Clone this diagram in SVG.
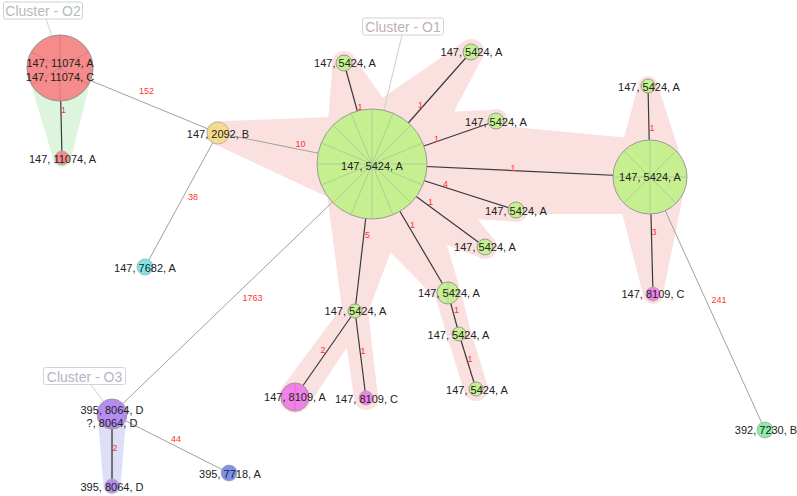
<svg xmlns="http://www.w3.org/2000/svg" width="797" height="496" viewBox="0 0 797 496">
<style>
.lbl{font-family:"Liberation Sans",Arial,sans-serif;font-size:11px;fill:#222;text-anchor:middle}
.el{font-family:"Liberation Sans",Arial,sans-serif;font-size:9px;fill:#f33;text-anchor:middle}
.cl{font-family:"Liberation Sans",Arial,sans-serif;font-size:14px;text-anchor:middle}
.far{stroke:#a0a0a0;stroke-width:1;fill:none}
.near{stroke:#3a3a3a;stroke-width:1.2;fill:none}
.sp{stroke:#a9c996;stroke-width:0.9}
.g{fill:#c6f08f;stroke:#9a9a9a;stroke-width:1}
.box{fill:#fff;stroke:#d2d2d2;stroke-width:1}
.lead{stroke:#cfcfcf;stroke-width:1}
</style>
<rect width="797" height="496" fill="#fff"/>
<g id="hulls">
<g fill="#fbe0e0">
<polygon points="381.9,115 220.4,121.2 215.6,144.8 362.1,213"/>
<circle cx="218" cy="133" r="12"/>
<polygon points="420.2,150.6 355.6,59.8 332.4,66.2 323.8,177.4"/>
<circle cx="344" cy="63" r="12"/>
<polygon points="409.5,197.1 480.7,60.6 461.3,43.4 334.5,130.9"/>
<circle cx="471" cy="52" r="13"/>
<polygon points="388.4,211.3 499.9,132.3 492.1,109.7 355.6,116.7"/>
<circle cx="496" cy="121" r="12"/>
<polygon points="369.7,213.9 648.3,214 651.7,140 374.3,114.1"/>
<polygon points="356.8,211.6 512.3,221.4 519.7,198.6 387.2,116.4"/>
<circle cx="516" cy="210" r="12"/>
<polygon points="342.4,204.3 477.9,256.7 492.1,237.3 401.6,123.7"/>
<circle cx="485" cy="247" r="12"/>
<polygon points="328.9,189.4 436.8,299.6 459.2,286.4 415.1,138.6"/>
<polygon points="322.3,158.3 342.1,309.5 367.9,312.5 421.7,169.7"/>
<polygon points="344.3,303.6 281.9,387.8 308.1,406.2 365.7,318.4"/>
<circle cx="295" cy="397" r="16"/>
<polygon points="342.1,312.6 354.1,399.5 377.9,396.5 367.9,309.4"/>
<circle cx="366" cy="398" r="12"/>
<polygon points="435.4,296.4 447.4,337.1 470.6,330.9 460.6,289.6"/>
<polygon points="447.5,337.5 464.5,392.5 487.5,385.5 470.5,330.5"/>
<circle cx="476" cy="389" r="12"/>
<polygon points="687,176.2 658,85.8 638,86.2 613,177.8"/>
<circle cx="648" cy="86" r="10"/>
<polygon points="613,177.9 643,294.3 663,293.7 687,176.1"/>
<circle cx="653" cy="294" r="10"/>
</g>
<g fill="#ddf5dd">
<polygon points="27.2,72 53,158 71,158 92.8,72"/>
<circle cx="62" cy="158" r="9.5"/>
</g>
<g fill="#dedff7">
<polygon points="97.5,414 103.5,486 120.5,486 126.5,414"/>
<circle cx="112" cy="486" r="8.5"/>
</g>
</g>
<g id="cluster-labels">
<g id="cluster-O2"><line class="lead" x1="46" y1="19" x2="52" y2="36"/><rect class="box" x="3.5" y="2" width="79" height="17" rx="2"/><text class="cl" x="43" y="16" fill="#b4bcb4">Cluster - O2</text></g>
<g id="cluster-O1"><line class="lead" x1="402" y1="35" x2="384" y2="110"/><rect class="box" x="362.5" y="18" width="81" height="17" rx="2"/><text class="cl" x="403" y="32" fill="#bfb0b0">Cluster - O1</text></g>
<g id="cluster-O3"><line class="lead" x1="91" y1="385" x2="104" y2="402"/><rect class="box" x="43.5" y="367.5" width="82" height="17" rx="2"/><text class="cl" x="84.5" y="382" fill="#b4b4c8">Cluster - O3</text></g>
</g>
<g id="connectors">
<line class="far" x1="60" y1="68" x2="218" y2="133"/>
<line class="near" x1="60" y1="68" x2="62" y2="158"/>
<line class="far" x1="218" y1="133" x2="145" y2="267"/>
<line class="far" x1="218" y1="133" x2="372" y2="164"/>
<line class="far" x1="372" y1="164" x2="112" y2="414"/>
<line class="near" x1="372" y1="164" x2="344" y2="63"/>
<line class="near" x1="372" y1="164" x2="471" y2="52"/>
<line class="near" x1="372" y1="164" x2="496" y2="121"/>
<line class="near" x1="372" y1="164" x2="650" y2="177"/>
<line class="near" x1="372" y1="164" x2="516" y2="210"/>
<line class="near" x1="372" y1="164" x2="485" y2="247"/>
<line class="near" x1="372" y1="164" x2="448" y2="293"/>
<line class="near" x1="372" y1="164" x2="355" y2="311"/>
<line class="near" x1="355" y1="311" x2="295" y2="397"/>
<line class="near" x1="355" y1="311" x2="366" y2="398"/>
<line class="near" x1="448" y1="293" x2="459" y2="334"/>
<line class="near" x1="459" y1="334" x2="476" y2="389"/>
<line class="near" x1="650" y1="177" x2="648" y2="86"/>
<line class="near" x1="650" y1="177" x2="653" y2="294"/>
<line class="far" x1="650" y1="177" x2="765" y2="430"/>
<line class="near" x1="112" y1="414" x2="112" y2="486" style="stroke-width:1.6;stroke:#555"/>
<line class="far" x1="112" y1="414" x2="229" y2="473"/>
<text class="el" x="146.5" y="94">152</text>
<text class="el" x="63.5" y="113">1</text>
<text class="el" x="193" y="200">38</text>
<text class="el" x="300.5" y="147">10</text>
<text class="el" x="252.5" y="301">1763</text>
<text class="el" x="360" y="110">1</text>
<text class="el" x="420.5" y="108">1</text>
<text class="el" x="436.5" y="142">1</text>
<text class="el" x="513" y="171">1</text>
<text class="el" x="445.5" y="187">4</text>
<text class="el" x="430.5" y="205">1</text>
<text class="el" x="412.5" y="228">1</text>
<text class="el" x="367.5" y="238">5</text>
<text class="el" x="323" y="353">2</text>
<text class="el" x="363" y="354">1</text>
<text class="el" x="456.5" y="313">1</text>
<text class="el" x="470" y="362">1</text>
<text class="el" x="652" y="131">1</text>
<text class="el" x="654" y="235">3</text>
<text class="el" x="719" y="303">241</text>
<text class="el" x="115" y="451">2</text>
<text class="el" x="176" y="442">44</text>
</g>
<g id="node-O2-main">
<circle cx="60" cy="68" r="33" fill="#f58b8b" stroke="#8f8f8f"/>
<g stroke="#d67878" stroke-width="0.9"><line x1="60" y1="35" x2="60" y2="101"/><line x1="88.6" y1="51.5" x2="31.4" y2="84.5"/><line x1="88.6" y1="84.5" x2="31.4" y2="51.5"/></g>
<text class="lbl" x="60" y="67">147, 11074, A</text>
<text class="lbl" x="60" y="81">147, 11074, C</text>
</g>
<g id="node-O2-child"><circle cx="62" cy="158" r="7" fill="#f58b8b" stroke="#aaa" stroke-width="0.8"/><text class="lbl" x="62.5" y="163">147, 11074, A</text></g>
<g id="node-2092"><circle cx="218" cy="133" r="11" fill="#f7db8c" stroke="#aaa" stroke-width="0.8"/><text class="lbl" x="218" y="138">147, 2092, B</text></g>
<g id="node-7682"><circle cx="145" cy="267" r="8" fill="#7ee6ea" stroke="#aaa" stroke-width="0.8"/><text class="lbl" x="145" y="272">147, 7682, A</text></g>
<g id="node-hub">
<circle class="g" cx="372" cy="164" r="55"/>
<g class="sp">
<line x1="372" y1="109" x2="372" y2="219"/>
<line x1="393.05" y1="113.19" x2="350.95" y2="214.81"/>
<line x1="410.89" y1="125.11" x2="333.11" y2="202.89"/>
<line x1="422.81" y1="142.95" x2="321.19" y2="185.05"/>
<line x1="427" y1="164" x2="317" y2="164"/>
<line x1="422.81" y1="185.05" x2="321.19" y2="142.95"/>
<line x1="410.89" y1="202.89" x2="333.11" y2="125.11"/>
<line x1="393.05" y1="214.81" x2="350.95" y2="113.19"/>
</g>
<text class="lbl" x="372" y="170">147, 5424, A</text>
</g>
<g id="node-s1"><circle class="g" cx="344" cy="63" r="8" stroke="#aaa"/><text class="lbl" x="345" y="67">147, 5424, A</text></g>
<g id="node-s2"><circle class="g" cx="471" cy="52" r="8" stroke="#aaa"/><text class="lbl" x="471.5" y="56">147, 5424, A</text></g>
<g id="node-s3"><circle class="g" cx="496" cy="121" r="8" stroke="#aaa"/><text class="lbl" x="496" y="126">147, 5424, A</text></g>
<g id="node-s4"><circle class="g" cx="516" cy="210" r="8" stroke="#aaa"/><text class="lbl" x="516" y="215">147, 5424, A</text></g>
<g id="node-s5"><circle class="g" cx="485" cy="247" r="8" stroke="#aaa"/><text class="lbl" x="485" y="251">147, 5424, A</text></g>
<g id="node-s6"><circle class="g" cx="448" cy="293" r="11" stroke="#aaa"/><line class="sp" x1="448" y1="282" x2="448" y2="304"/><text class="lbl" x="449" y="297">147, 5424, A</text></g>
<g id="node-s7"><circle class="g" cx="355" cy="311" r="7" stroke="#aaa"/><text class="lbl" x="355.5" y="315">147, 5424, A</text></g>
<g id="node-t1"><circle class="g" cx="459" cy="334" r="7" stroke="#aaa"/><text class="lbl" x="458.5" y="339">147, 5424, A</text></g>
<g id="node-t2"><circle class="g" cx="476" cy="389" r="7" stroke="#aaa"/><text class="lbl" x="477" y="394">147, 5424, A</text></g>
<g id="node-8109A"><circle cx="295" cy="397" r="14" fill="#f081e6" stroke="#999"/><line x1="295" y1="383" x2="295" y2="411" stroke="#d873cf" stroke-width="0.9"/><text class="lbl" x="295" y="401">147, 8109, A</text></g>
<g id="node-8109C"><circle cx="366" cy="398" r="7" fill="#f081e6" stroke="#aaa" stroke-width="0.8"/><text class="lbl" x="366.5" y="403">147, 8109, C</text></g>
<g id="node-hub2">
<circle class="g" cx="650" cy="177" r="37"/>
<g class="sp">
<line x1="650" y1="140" x2="650" y2="214"/>
<line x1="676.16" y1="150.84" x2="623.84" y2="203.16"/>
<line x1="687" y1="177" x2="613" y2="177"/>
<line x1="676.16" y1="203.16" x2="623.84" y2="150.84"/>
</g>
<text class="lbl" x="650" y="181">147, 5424, A</text>
</g>
<g id="node-rt"><circle class="g" cx="648" cy="86" r="7" stroke="#aaa"/><text class="lbl" x="649" y="91">147, 5424, A</text></g>
<g id="node-rb"><circle cx="653" cy="294" r="7" fill="#f081e6" stroke="#aaa" stroke-width="0.8"/><text class="lbl" x="653" y="298">147, 8109, C</text></g>
<g id="node-7230"><circle cx="765" cy="430" r="8" fill="#8eeaa9" stroke="#aaa" stroke-width="0.8"/><text class="lbl" x="766" y="434">392, 7230, B</text></g>
<g id="node-O3-main"><circle cx="112" cy="414" r="15" fill="#b58cf1" stroke="#999"/><text class="lbl" x="112" y="414">395, 8064, D</text><text class="lbl" x="112" y="427">?, 8064, D</text></g>
<g id="node-O3-child"><circle cx="112" cy="486" r="7" fill="#b58cf1" stroke="#aaa" stroke-width="0.8"/><text class="lbl" x="112" y="491">395, 8064, D</text></g>
<g id="node-7718"><circle cx="229" cy="473" r="8" fill="#7d90ee" stroke="#aaa" stroke-width="0.8"/><text class="lbl" x="230" y="478">395, 7718, A</text></g>
</svg>
